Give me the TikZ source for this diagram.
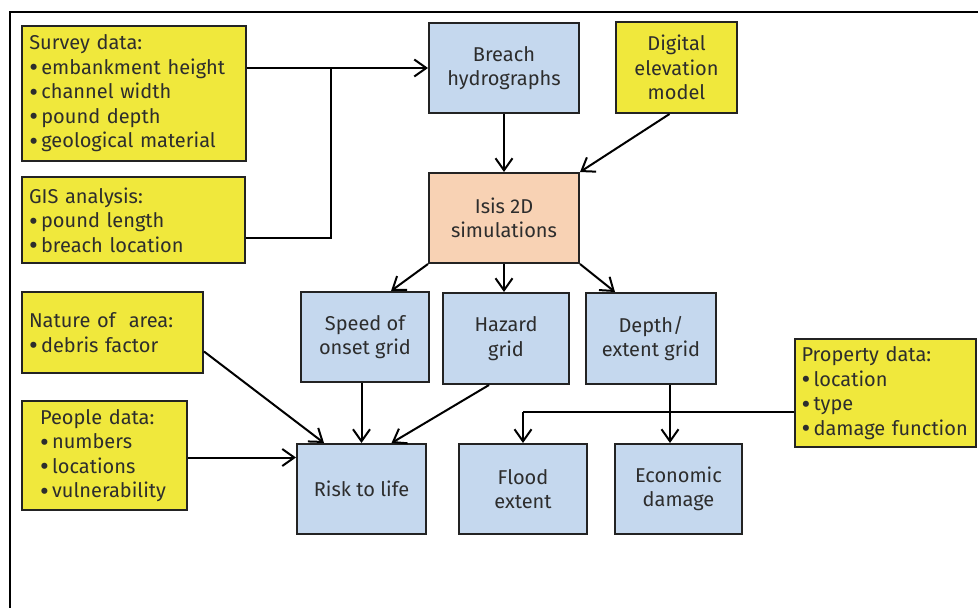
\documentclass[tikz,border=0pt]{standalone}
\usepackage{fontspec}
\setmainfont{Fira Sans}
\usetikzlibrary{arrows.meta,calc}
\definecolor{ylw}{RGB}{240,232,60}
\definecolor{blu}{RGB}{197,216,238}
\definecolor{pch}{RGB}{248,210,180}
\definecolor{txt}{RGB}{45,45,45}
\definecolor{edge}{RGB}{35,35,35}
\newcommand\bul{\smash{\raisebox{-2.4pt}{\scalebox{1.35}{\textbullet}}}\,}
\begin{document}
\begin{tikzpicture}[x=1pt,y=-1pt,
  base/.style={draw=edge, line width=2pt, text=txt, font=\fontsize{20}{24.5}\selectfont, inner sep=0pt},
  ybox/.style={base, fill=ylw, align=left},
  bbox/.style={base, fill=blu, align=center},
  pbox/.style={base, fill=pch, align=center},
  conn/.style={line width=2pt, draw=black, -{Straight Barb[length=12pt,width=17pt]}},
  plain/.style={line width=2pt, draw=black}]
\useasboundingbox (0,0) rectangle (978,608);
\draw[line width=2pt, draw=black] (10,610) -- (10,12) -- (980,12);

% input boxes
\node[ybox, minimum width=223.5pt, minimum height=135pt, text width=209pt] (survey) at (133.75,93.5)
  {Survey data:\\\mbox{\bul embankment height}\\\mbox{\bul channel width}\\\mbox{\bul pound depth}\\\mbox{\bul geological material}};
\node[ybox, minimum width=223pt, minimum height=86pt, text width=209pt] (gis) at (133.5,220)
  {GIS analysis:\\\mbox{\bul pound length}\\\mbox{\bul breach location}};
\node[ybox, align=center, minimum width=121pt, minimum height=91pt] (dem) at (676.5,67.5)
  {Digital\\elevation\\model};
\node[ybox, minimum width=181pt, minimum height=81pt, text width=167pt] (nature) at (112.5,332.5)
  {Nature of\ \ area:\\\mbox{\bul debris factor}};
\node[ybox, minimum width=165pt, minimum height=109pt, text width=129pt] (people) at (104.5,455.5)
  {People data:\\\mbox{\bul numbers}\\\mbox{\bul locations}\\\mbox{\bul vulnerability}};
\node[ybox, minimum width=181pt, minimum height=108pt, text width=168pt] (property) at (885.5,393)
  {Property data:\\\mbox{\bul location}\\\mbox{\bul type}\\\mbox{\bul damage function}};

% process boxes
\node[bbox, minimum width=150pt, minimum height=90pt] (breach) at (504,68) {Breach\\hydrographs};
\node[pbox, minimum width=150pt, minimum height=90pt] (isis) at (504,218) {Isis 2D\\simulations};
\node[bbox, minimum width=128pt, minimum height=90pt] (speed) at (365,337) {Speed of\\onset grid};
\node[bbox, minimum width=126pt, minimum height=91pt] (hazard) at (506,338.5) {Hazard\\grid};
\node[bbox, minimum width=130pt, minimum height=91pt] (depth) at (651,338.5) {Depth/\\extent grid};
\node[bbox, minimum width=129pt, minimum height=90pt] (risk) at (361.5,489) {Risk to life};
\node[bbox, minimum width=128pt, minimum height=90pt] (flood) at (523,489) {Flood\\extent};
\node[bbox, minimum width=127pt, minimum height=90pt] (econ) at (678.5,489) {Economic\\damage};

% connectors
\draw[conn] (survey.east |- breach.west) -- (breach.west);
\coordinate (jn) at (331,238);
\draw[plain] (gis.east |- jn) -- (jn) -- (jn |- breach.west);
\draw[conn] (breach.south) -- (isis.north);
\draw[conn] ($(dem.south)+(-7,0)$) -- (isis.north east);
\draw[conn] (isis.south west) -- ($(speed.north)+(26,0)$);
\draw[conn] (isis.south) -- (isis.south |- hazard.north);
\draw[conn] (isis.south east) -- ($(depth.north)+(-36,0)$);
\draw[conn] (risk.north |- speed.south) -- (risk.north);
\draw[conn] ($(hazard.south)+(-17,0)$) -- ($(risk.north)+(30,0)$);
\draw[conn] ($(nature.east)+(0,19)$) -- ($(risk.north west)+(28,0)$);
\coordinate (pe) at ($(people.east)+(0,2)$);
\draw[conn] (pe) -- (pe -| risk.west);
\coordinate (dd) at ($(depth.south)+(19,0)$);
\draw[conn] (dd) -- (dd |- econ.north);
\coordinate (pj) at (523,412);
\draw[plain] (property.west |- pj) -- (pj);
\draw[conn] (pj) -- (flood.north);
\end{tikzpicture}
\end{document}
